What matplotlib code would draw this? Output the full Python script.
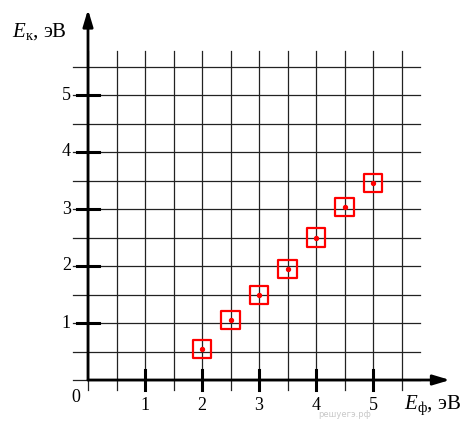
import matplotlib
matplotlib.use("Agg")
import matplotlib.pyplot as plt
import numpy as np

# photon energy (x) and kinetic energy (y), eV
e_photon = [2.0, 2.5, 3.0, 3.5, 4.0, 4.5, 5.0]
e_kin = [0.54, 1.06, 1.49, 1.95, 2.50, 3.04, 3.46]
tick_vals = [1, 2, 3, 4, 5]

plt.rcParams['font.family'] = ['Liberation Serif', 'DejaVu Serif']
plt.rcParams['mathtext.fontset'] = 'custom'
plt.rcParams['mathtext.rm'] = 'Liberation Serif'
plt.rcParams['mathtext.it'] = 'Liberation Serif:italic'

fig = plt.figure(figsize=(4.71, 4.21), dpi=100)
ax = fig.add_axes([0, 0, 1, 1])
ax.set_xlim(-88 / 57, 383 / 57)
ax.set_ylim(-41 / 57, 380 / 57)
ax.axis("off")

# grid
grid = np.arange(0, 5.51, 0.5)
for g in grid:
    ax.plot([g, g], [-0.18, 5.77], color="#222222", lw=0.9, zorder=1)
    ax.plot([-0.26, 5.82], [g, g], color="#222222", lw=0.9, zorder=1)

# axes with arrows
arrow = dict(arrowstyle="-|>,head_length=1.0,head_width=0.3",
             lw=2, color="k", shrinkA=0, shrinkB=0)
ax.annotate("", xy=(6.35, 0), xytext=(0, 0), arrowprops=arrow, zorder=3)
ax.annotate("", xy=(0, 6.5), xytext=(0, 0), arrowprops=arrow, zorder=3)

# ticks
for t in tick_vals:
    ax.plot([t, t], [-0.18, 0.18], color="k", lw=2.2, zorder=3)
    ax.plot([-0.19, 0.19], [t, t], color="k", lw=2.2, zorder=3)
    ax.text(t, -0.3, str(t), ha="center", va="top", fontsize=13)
    ax.text(-0.3, t, str(t), ha="right", va="center", fontsize=13)
ax.text(-0.14, -0.15, "0", ha="right", va="top", fontsize=13)

# watermark
ax.text(4.5, -0.6, "решуегэ.рф", ha="center", va="center", fontsize=6,
        color="#c8c8c8", family="DejaVu Sans", zorder=2)

# axis labels
ax.text(-1.33, 6.12, "$E_{\\mathrm{к}}$, эВ", ha="left", va="center", fontsize=15)
ax.text(5.55, -0.45, "$E_{\\mathrm{ф}}$, эВ", ha="left", va="center", fontsize=15)

# data points: red squares with dots
ax.scatter(e_photon, e_kin, marker="s", s=170, facecolors="none",
           edgecolors="red", linewidths=1.6, zorder=4)
ax.scatter(e_photon, e_kin, marker="o", s=8, color="red", zorder=5)

fig.savefig("out.png", dpi=100)
